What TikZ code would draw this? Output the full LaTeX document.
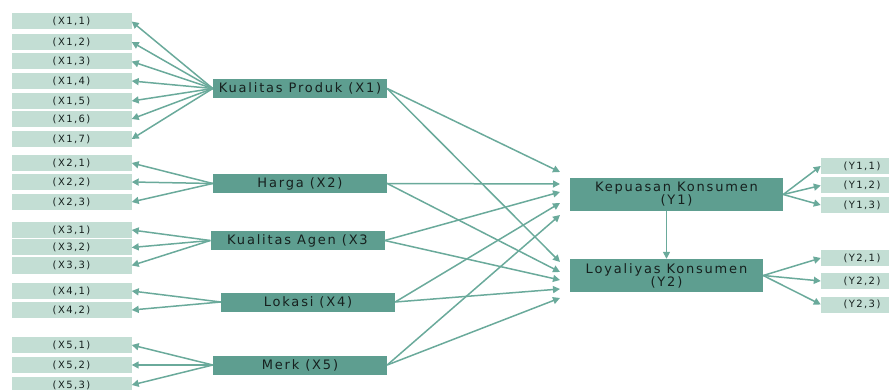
\documentclass[tikz,border=0pt]{standalone}
\usepackage{fontspec}
\setmainfont{DejaVu Sans}[LetterSpace=14]
\usetikzlibrary{arrows.meta}
\definecolor{tealdark}{HTML}{5E9E90}
\definecolor{teallight}{HTML}{C3DED4}
\definecolor{tealline}{HTML}{6AAA9B}
\definecolor{inktext}{HTML}{16201E}

\tikzset{
  ind/.style={fill=teallight, minimum height=16pt, inner sep=0pt, text=inktext, font=\fontsize{10}{11}\selectfont},
  lat/.style={fill=tealdark, minimum width=174pt, minimum height=19pt, inner sep=0pt, text=inktext, font=\fontsize{13}{13}\selectfont},
  endo/.style={lat, minimum height=33pt, align=center},
  arr/.style={draw=tealline, line width=1.5pt, -{Triangle[length=7pt,width=7pt]}},
}

\begin{document}
\begin{tikzpicture}[x=1pt,y=-1pt]
        \useasboundingbox (0,0) rectangle (889,390);

        \node[lat] (x1) at (300,88.5) {Kualitas Produk (X1)};
        \node[lat] (x2) at (300,183.5) {Harga (X2)};
        \node[lat] (x3) at (297.5,240.5) {Kualitas Agen (X3};
        \node[lat] (x4) at (308,302) {Lokasi (X4)};
        \node[lat] (x5) at (300,365) {Merk (X5)};
        \node[endo, minimum width=213pt] (y1) at (676.5,194.5) {Kepuasan Konsumen\\(Y1)};
        \node[endo, minimum width=193pt] (y2) at (666.5,275.5) {Loyaliyas Konsumen\\(Y2)};

        \foreach \v/\i/\y in {1/1/21.5, 1/2/42, 1/3/61.5, 1/4/81, 1/5/101, 1/6/119, 1/7/139,
                              2/1/163, 2/2/182, 2/3/202,
                              3/1/230, 3/2/247.5, 3/3/265.5,
                              4/1/291, 4/2/310,
                              5/1/345, 5/2/365, 5/3/385} {
            \node[ind, minimum width=120pt] (i\v\i) at (71.5,\y) {(X\v,\i)};
            \draw[arr] (x\v.west) -- (i\v\i.east);
        }

        \foreach \v/\i/\y in {1/1/166, 1/2/185.5, 1/3/205, 2/1/258, 2/2/281, 2/3/304.5} {
            \node[ind, minimum width=82pt] (j\v\i) at (862,\y) {(Y\v,\i)};
            \draw[arr] (y\v.east) -- (j\v\i.west);
        }

        \foreach \v/\a/\b in {1/172/262, 2/184/272, 3/192/280, 4/203/289, 5/215/298} {
            \coordinate (p\v) at (560,\a);
            \coordinate (q\v) at (560,\b);
            \draw[arr] (x\v.east) -- (p\v);
            \draw[arr] (x\v.east) -- (q\v);
        }

        \draw[arr] (y1.south -| y2.north) -- (y2.north);
    \end{tikzpicture}
\end{document}
